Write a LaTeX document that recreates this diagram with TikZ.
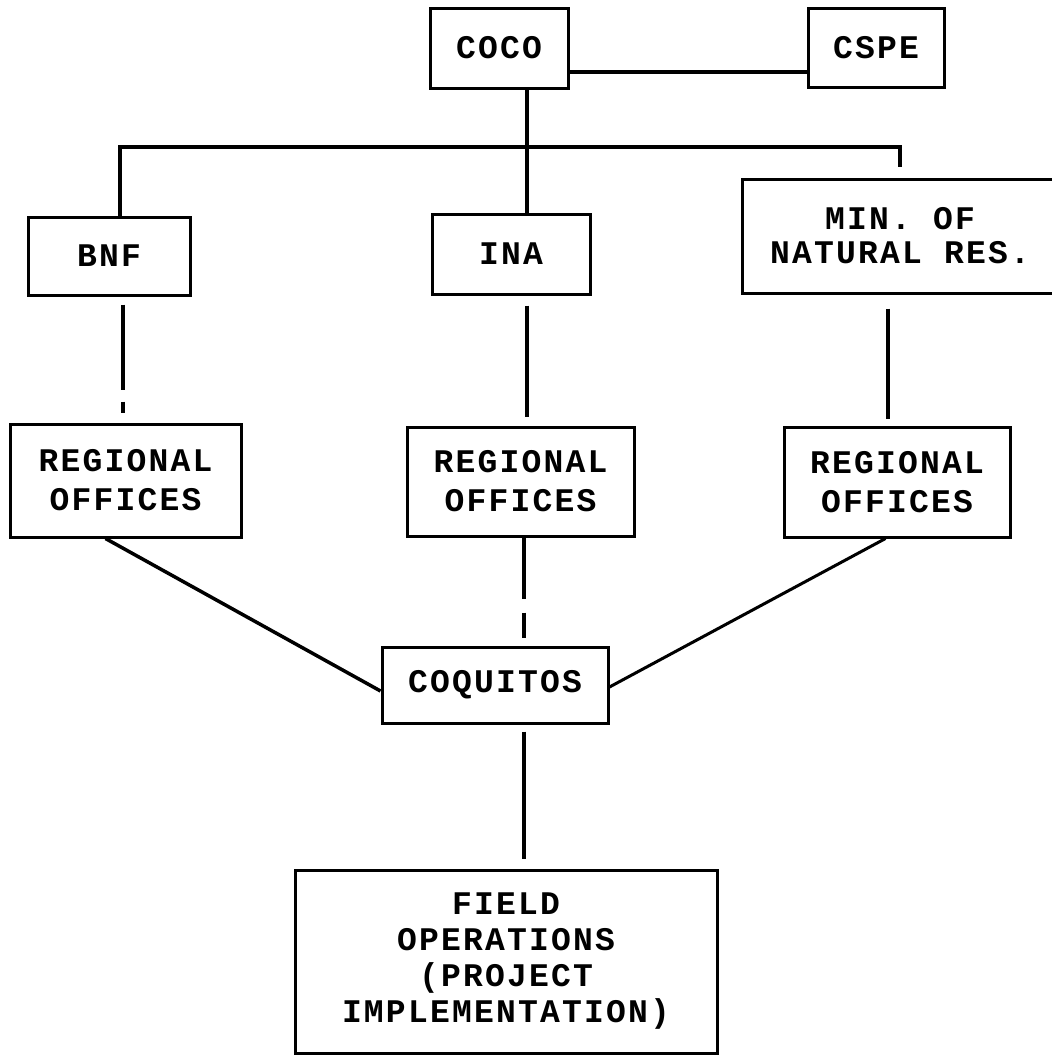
\documentclass[tikz,border=0pt]{standalone}
\usepackage{fontspec}
\newfontfamily\twfont{Liberation Mono}[LetterSpace=6.7]
\begin{document}
\begin{tikzpicture}[x=1pt,y=-1pt,
  box/.style={draw, line width=3pt, rectangle, inner sep=0pt, align=center,
    font=\twfont\bfseries\fontsize{33}{38}\selectfont},
  conn/.style={line width=3.5pt}]
\useasboundingbox (0,0) rectangle (1052,1055);
% boxes
\node[box, minimum width=138, minimum height=80] (coco) at (499,48) {COCO};
\node[box, minimum width=136, minimum height=79] (cspe) at (876,47.5) {CSPE};
\node[box, minimum width=162, minimum height=78] (bnf) at (109,256) {BNF};
\node[box, minimum width=158, minimum height=80] (ina) at (511,254) {INA};
\node[box, minimum width=316, minimum height=114, font=\twfont\bfseries\fontsize{33}{34}\selectfont] (min) at (900,236) {MIN. OF\\NATURAL RES.};
\node[box, minimum width=231, minimum height=113, font=\twfont\bfseries\fontsize{33}{39}\selectfont] (regl) at (125.5,480.5) {REGIONAL\\OFFICES};
\node[box, minimum width=227, minimum height=109, font=\twfont\bfseries\fontsize{33}{39}\selectfont] (regm) at (520.5,481.5) {REGIONAL\\OFFICES};
\node[box, minimum width=226, minimum height=110, font=\twfont\bfseries\fontsize{33}{39}\selectfont] (regr) at (897,482) {REGIONAL\\OFFICES};
\node[box, minimum width=226, minimum height=76] (coq) at (495,685) {COQUITOS};
\node[box, minimum width=422, minimum height=183, font=\twfont\bfseries\fontsize{33}{36}\selectfont] (field) at (506,961.5) {FIELD\\OPERATIONS\\(PROJECT\\IMPLEMENTATION)};
% connectors
\coordinate (j) at (527,147);
\draw[conn] ([yshift=-24]coco.east) -- ([yshift=-24]coco.east -| cspe.west);
\draw[conn] ([xshift=28]coco.south) -- ([xshift=28]coco.south |- ina.north);
\draw[conn] ([xshift=11]bnf.north) |- (j) -| ([yshift=11]min.north);
\draw[conn, shorten <=8pt, shorten >=10pt, dash pattern=on 85pt off 12pt on 40pt]
  ([xshift=-2.5]regl.north |- bnf.south) -- ([xshift=-2.5]regl.north);
\draw[conn, shorten <=10pt, shorten >=9pt] ([xshift=6.5]regm.north |- ina.south) -- ([xshift=6.5]regm.north);
\draw[conn, shorten <=14pt, shorten >=7pt] ([xshift=-9]regr.north |- min.south) -- ([xshift=-9]regr.north);
\draw[conn, shorten >=8pt, dash pattern=on 61pt off 14pt on 60pt]
  ([xshift=3.5]regm.south) -- ([xshift=3.5]regm.south |- coq.north);
\draw[conn, shorten <=7pt, shorten >=10pt] ([xshift=29]coq.south) -- ([xshift=29]coq.south |- field.north);
\draw[conn] ([xshift=-20]regl.south) -- ([yshift=-6]coq.west);
\draw[line width=3pt] ([xshift=-11.5]regr.south) -- ([yshift=-2]coq.east);
\end{tikzpicture}
\end{document}
